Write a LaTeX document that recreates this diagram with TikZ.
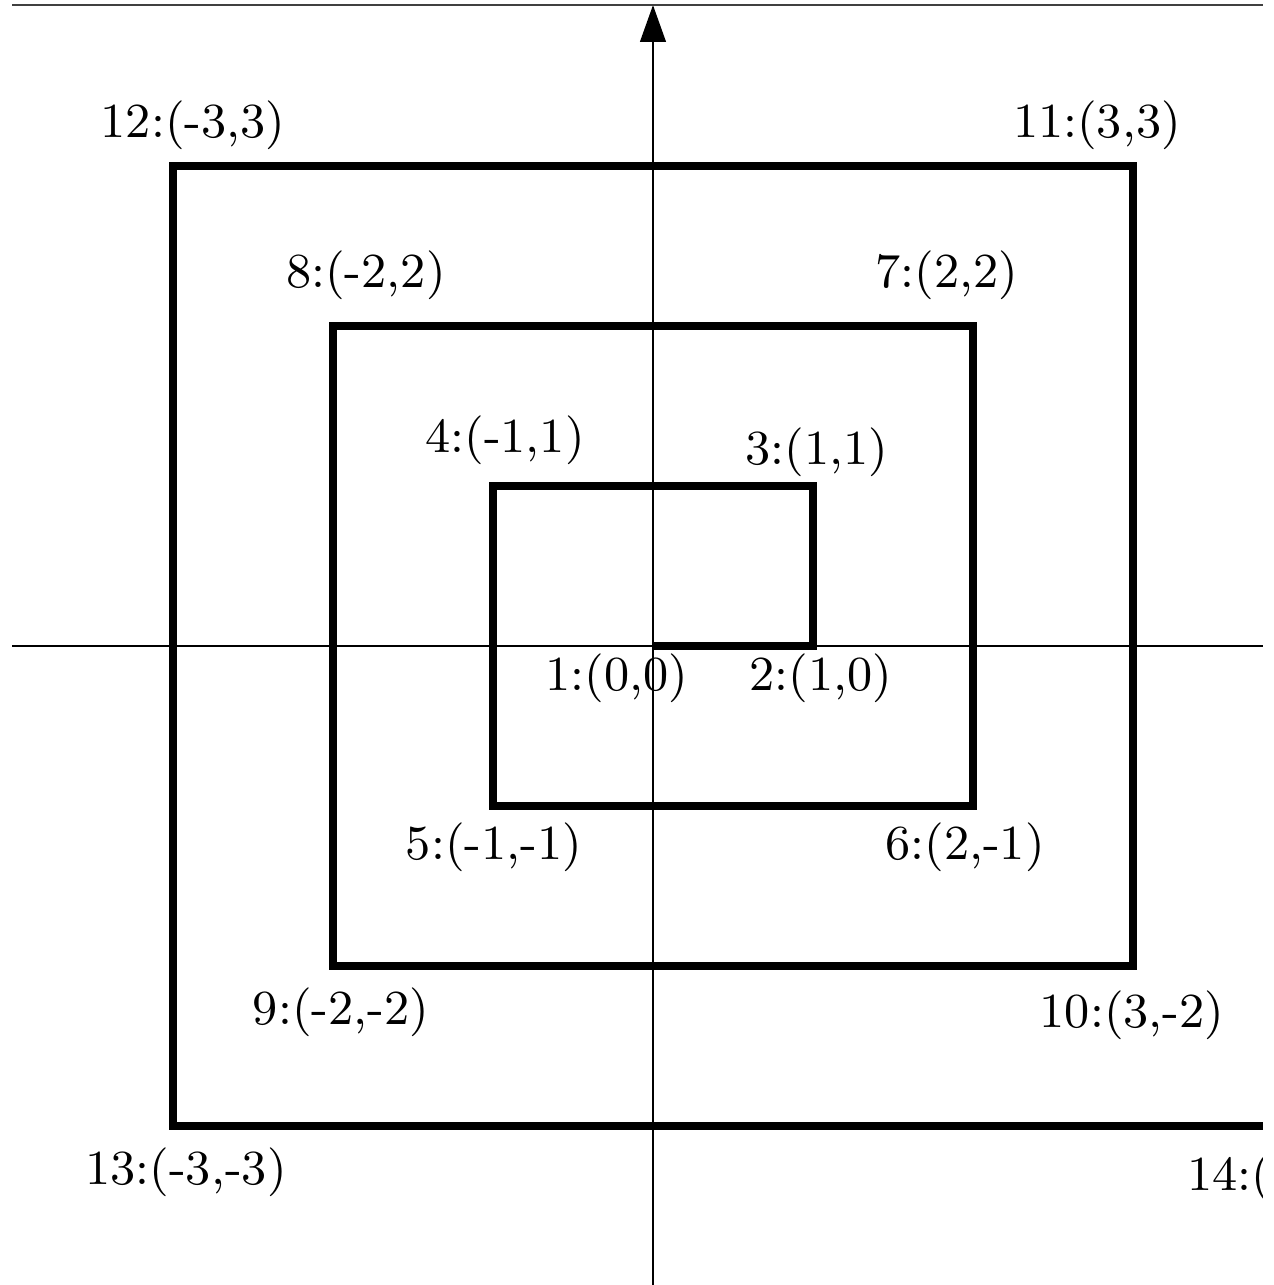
\documentclass[tikz,border=0pt]{standalone}
\usetikzlibrary{arrows.meta}
\begin{document}
\begin{tikzpicture}[
  spiral/.style={line width=1.25pt, line join=miter},
  axis/.style={line width=0.4pt},
  lbl/.style={inner sep=0pt, font=\fontsize{8.7pt}{10pt}\selectfont}
]
\useasboundingbox (-4.08125,-3.99375) rectangle (3.88125,4.0375);
\begin{scope}
\clip (-4.1,-4.1) rectangle (3.8125,4.1);
% axes
\coordinate (xl) at (-4.006,0);
\coordinate (xr) at (4.2,0);
\coordinate (yb) at (0,-4.2);
\coordinate (yt) at (0,4.006);
\coordinate (tl) at (-4.006,4.006);
\coordinate (tr) at (4.2,4.006);
\draw[axis] (xl) -- (xr);
\draw[axis, -{Triangle[length=2.3mm,width=1.6mm]}] (yb) -- (yt);
\draw[line width=0.5pt, black!75] (tl) -- (tr);
% points
\coordinate (p1) at (0,0);
\coordinate (p2) at (1,0);
\coordinate (p3) at (1,1);
\coordinate (p4) at (-1,1);
\coordinate (p5) at (-1,-1);
\coordinate (p6) at (2,-1);
\coordinate (p7) at (2,2);
\coordinate (p8) at (-2,2);
\coordinate (p9) at (-2,-2);
\coordinate (p10) at (3,-2);
\coordinate (p11) at (3,3);
\coordinate (p12) at (-3,3);
\coordinate (p13) at (-3,-3);
\coordinate (p14) at (4,-3);
\draw[spiral] (p1) -- (p2) -- (p3) -- (p4) -- (p5) -- (p6) -- (p7) -- (p8)
  -- (p9) -- (p10) -- (p11) -- (p12) -- (p13) -- (p14);
% labels
\node[lbl] (l1) at (-0.225,-0.2) {1:(0,0)};
\node[lbl] (l2) at (1.05,-0.2) {2:(1,0)};
\node[lbl] (l3) at (1.025,1.2125) {3:(1,1)};
\node[lbl] (l4) at (-0.925,1.2875) {4:(-1,1)};
\node[lbl] (l5) at (-0.994,-1.256) {5:(-1,-1)};
\node[lbl] (l6) at (1.95,-1.256) {6:(2,-1)};
\node[lbl] (l7) at (1.8375,2.319) {7:(2,2)};
\node[lbl] (l8) at (-1.794,2.319) {8:(-2,2)};
\node[lbl] (l9) at (-1.95,-2.2875) {9:(-2,-2)};
\node[lbl] (l10) at (2.994,-2.306) {10:(3,-2)};
\node[lbl] (l11) at (2.775,3.256) {11:(3,3)};
\node[lbl] (l12) at (-2.875,3.256) {12:(-3,3)};
\node[lbl] (l13) at (-2.919,-3.2875) {13:(-3,-3)};
\node[lbl, anchor=west] (l14) at (3.331,-3.325) {14:(4,-3)};
\end{scope}
\end{tikzpicture}
\end{document}
